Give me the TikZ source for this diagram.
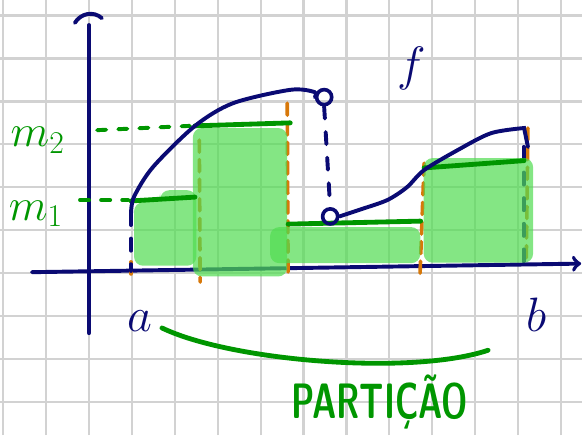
\RequirePackage{fix-cm}
\documentclass[tikz,border=0pt]{standalone}
\usetikzlibrary{positioning}
\definecolor{inkblue}{RGB}{10,10,115}
\definecolor{inkgreen}{RGB}{0,150,0}
\definecolor{boxgreen}{RGB}{80,220,80}
\definecolor{inkorange}{RGB}{215,120,10}
\begin{document}
\begin{tikzpicture}[
    gridline/.style={gray!35, line width=1.5pt},
    ink/.style={inkblue, line width=2.6pt, line cap=round},
    inkdash/.style={ink, dash pattern=on 8pt off 9pt},
    level/.style={inkgreen, line width=3.2pt, line cap=round},
    leveldash/.style={inkgreen, line width=2.6pt, line cap=round, dash pattern=on 6pt off 8pt},
    cut/.style={inkorange, line width=2.4pt, line cap=round, dash pattern=on 8pt off 5pt},
    piece/.style={fill=boxgreen, fill opacity=0.7, rounded corners=6pt},
    hole/.style={circle, draw=inkblue, line width=2.4pt, minimum size=10pt, inner sep=0pt},
    lbl/.style={inkblue, font=\fontsize{32}{36}\selectfont},
    glbl/.style={inkgreen, font=\fontsize{30}{34}\selectfont}
]
\useasboundingbox (-2.075,-3.776) rectangle (11.49,6.364);
\draw[gridline] (-2.075,-3.776) grid (11.49,6.364);

% axes
\draw[ink] (0,-1.4) -- (0,5.78);
\draw[ink] (-0.33,5.83) .. controls (-0.2,6.05) and (0.1,6.12) .. (0.30,5.94);
\draw[ink, ->] (-1.33,0.02) -- (11.47,0.22);

% partition points
\draw[cut] (0.98,0.26) -- (0.98,-0.05);
\draw[cut] (2.57,3.10) -- (2.59,-0.21);
\draw[cut] (4.62,3.96) -- (4.64,-0.09);
\draw[cut] (7.81,2.56) -- (7.71,-0.16);
\draw[cut] (10.23,3.38) -- (10.19,0.19);
\draw[inkdash] (0.98,1.40) -- (0.98,0.05);
\draw[inkdash] (10.13,2.94) -- (10.13,0.2);

% lower sum
\fill[piece] (1.05,0.17) -- (1.05,1.65) -- (1.66,1.65) -- (1.66,1.93) -- (2.5,1.93) -- (2.5,0.17) -- cycle;
\fill[piece] (2.42,-0.08) rectangle (4.62,3.38);
\fill[piece] (4.22,0.23) rectangle (7.72,1.07);
\fill[piece] (7.8,0.24) rectangle (10.35,2.68);

\draw[leveldash] (0.19,3.33) -- (2.35,3.43);
\draw[leveldash] (-0.21,1.70) -- (0.91,1.70);
\draw[level] (0.98,1.68) -- (2.47,1.77);
\draw[level] (2.47,3.43) -- (4.69,3.50);
\draw[level] (4.64,1.14) -- (7.73,1.21);
\draw[level] (7.81,2.45) -- (10.14,2.62);

% f
\node[hole] (top) at (5.48,4.10) {};
\node[hole] (jump) at (5.62,1.32) {};
\draw[ink] plot[smooth] coordinates {(0.98,1.40) (1.05,1.78) (1.49,2.47) (2.47,3.43) (3.36,3.96) (4.69,4.27) (5.25,4.22) (top.west)};
\draw[inkdash] (top.south) -- (jump.north);
\draw[ink] plot[smooth] coordinates {(jump.east) (6.32,1.48) (6.95,1.70) (7.41,2.0) (7.81,2.40) (8.60,2.87) (9.37,3.26) (10.14,3.38)} -- (10.23,2.94);

\node[lbl] (labf) at (7.53,4.78) {$f$};
\node[lbl] (laba) at (1.19,-1.12) {$a$};
\node[lbl] (labb) at (10.42,-0.98) {$b$};
\node[glbl] (labm2) at (-1.2,3.10) {$m_2$};
\node[glbl] (labm1) at (-1.24,1.38) {$m_1$};

% partition
\draw[level] (1.70,-1.28) .. controls (3.3,-2.05) and (7.5,-2.4) .. (9.3,-1.8);
\node[inkgreen, font=\sffamily\bfseries\fontsize{22}{26}\selectfont] (partition) at (6.78,-3.0) {\scalebox{1}[1.5]{PARTIÇÃO}};
\end{tikzpicture}
\end{document}
